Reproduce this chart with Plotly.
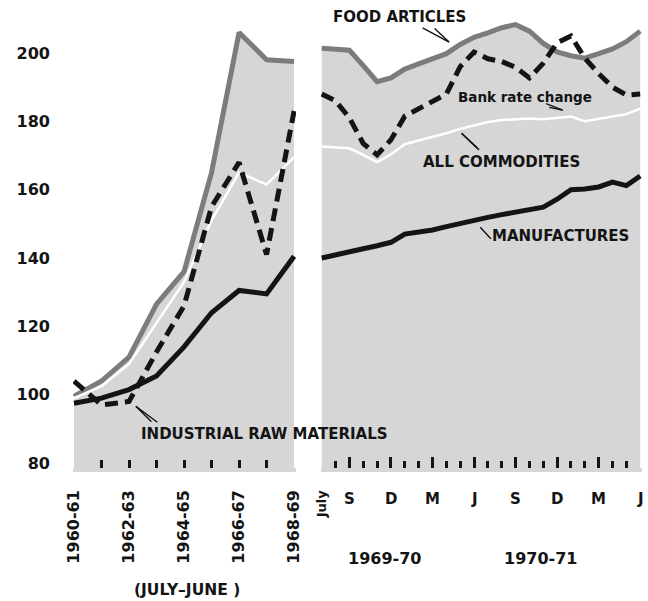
import plotly.graph_objects as go

# ---------------- data ----------------
years = ["1960-61", "1961-62", "1962-63", "1963-64", "1964-65",
         "1965-66", "1966-67", "1967-68", "1968-69"]
food_annual = [99.5, 104, 111, 126.5, 136, 165, 206, 198, 197.5]
allcomm_annual = [99, 102.5, 109, 121, 133, 151, 165, 161.5, 169.5]
manuf_annual = [97.5, 99, 101.5, 105.5, 114, 124, 130.5, 129.5, 140.5]
raw_annual = [104, 97, 98, 112.5, 126, 155, 168, 141, 183]

months = ["July", "Aug", "Sept", "Oct", "Nov", "Dec", "Jan", "Feb", "Mar", "Apr", "May", "June",
          "July", "Aug", "Sept", "Oct", "Nov", "Dec", "Jan", "Feb", "Mar", "Apr", "May", "June"]
food_monthly = [201.4, 201.0, 200.8, 196.3, 191.6, 192.7, 195.3, 196.8, 198.2, 199.8, 202.5, 204.6,
                205.9, 207.4, 208.3, 206.4, 202.8, 200.3, 199.2, 198.5, 199.8, 201.2, 203.3, 206.4]
raw_monthly = [188, 186, 181, 173.5, 170.2, 174.6, 181.5, 183.8, 185.9, 188, 196, 200.3,
               198.3, 197.5, 195.8, 192.7, 197, 203, 205, 198.5, 194, 190, 187.7, 188]
allcomm_monthly = [172.6, 172.4, 172.1, 170.2, 168.1, 170.3, 173.3, 174.4, 175.4, 176.5, 177.8, 178.9,
                   179.8, 180.4, 180.6, 180.8, 180.6, 181.0, 181.4, 180.0, 180.7, 181.2, 182.1, 183.7]
manuf_monthly = [140, 141, 141.8, 142.7, 143.6, 144.6, 147, 147.6, 148.2, 149.2, 150.2, 151,
                 151.9, 152.7, 153.4, 154.1, 154.9, 157.2, 160, 160.2, 160.8, 162.2, 161.2, 164]
fiscal_years = ["1969-70", "1970-71"]
y_ticks = [80, 100, 120, 140, 160, 180, 200]

# ---------------- styling ----------------
FILL = "#d6d6d6"
FOOD_C = "#7c7c7c"
INK = "#141414"
FONT = "DejaVu Sans"
W = "bold"

x_left = list(range(len(years)))
x_right = list(range(len(months)))

fig = go.Figure()
for xa, xs, food, allc, manuf, raw in [
    ("x", x_left, food_annual, allcomm_annual, manuf_annual, raw_annual),
    ("x2", x_right, food_monthly, allcomm_monthly, manuf_monthly, raw_monthly),
]:
    fig.add_trace(go.Scatter(x=xs, y=food, xaxis=xa, yaxis="y", mode="lines",
                             line=dict(color=FOOD_C, width=5), fill="tozeroy",
                             fillcolor=FILL, hoverinfo="skip"))
    fig.add_trace(go.Scatter(x=xs, y=allc, xaxis=xa, yaxis="y", mode="lines",
                             line=dict(color="white", width=2.5), hoverinfo="skip"))
    fig.add_trace(go.Scatter(x=xs, y=manuf, xaxis=xa, yaxis="y", mode="lines",
                             line=dict(color=INK, width=5), hoverinfo="skip"))
    fig.add_trace(go.Scatter(x=xs, y=raw, xaxis=xa, yaxis="y", mode="lines",
                             line=dict(color=INK, width=5, dash="13px,7px"), hoverinfo="skip"))

LEFT_DOM = [0, 0.3919]
RIGHT_DOM = [0.4359, 1]
major_right = [2, 5, 8, 11, 14, 17, 20]
minor_right = [k for k in range(1, 23) if k not in major_right]

fig.update_layout(
    width=648, height=601,
    margin=dict(l=73, r=6, t=10, b=133, autoexpand=False),
    paper_bgcolor="white", plot_bgcolor="white",
    showlegend=False,
    font=dict(family=FONT, color=INK, size=16),
    xaxis=dict(domain=LEFT_DOM, range=[-0.036, 8.07], anchor="y", automargin=False,
               showgrid=False, zeroline=False, showline=False,
               tickvals=x_left[0::2], ticktext=years[0::2], tickangle=-90,
               ticks="", ticklabelstandoff=18,
               tickfont=dict(family=FONT, size=16, color=INK, weight=W),
               minor=dict(tickvals=x_left[1:-1], ticks="inside", ticklen=8,
                          tickwidth=2.5, tickcolor=INK)),
    xaxis2=dict(domain=RIGHT_DOM, range=[-0.05, 23.13], anchor="y", automargin=False,
                showgrid=False, zeroline=False, showline=False,
                tickvals=major_right, ticks="inside", ticklen=11, tickwidth=2.5,
                tickcolor=INK, showticklabels=False,
                minor=dict(tickvals=minor_right, ticks="inside", ticklen=7,
                           tickwidth=2.5, tickcolor=INK)),
    yaxis=dict(range=[78.55, 212.58], anchor="x", automargin=False,
               showgrid=False, zeroline=False,
               showline=False, tickvals=y_ticks, ticks="", ticklabelstandoff=22,
               tickfont=dict(family=FONT, size=16, color=INK, weight=W)),
)

# gray strip continuing a few pixels below the plot area
for dom in (LEFT_DOM, RIGHT_DOM):
    fig.add_shape(type="rect", xref="paper", yref="paper", x0=dom[0], x1=dom[1],
                  y0=-4 / 458, y1=0, fillcolor=FILL, line=dict(width=0), layer="below")

ann = []
def label(text, x, y, xref, size=16, xanchor="center", yanchor="middle", weight=W):
    ann.append(dict(text=text, x=x, y=y, xref=xref, yref="y", showarrow=False,
                    xanchor=xanchor, yanchor=yanchor,
                    font=dict(family=FONT, size=size, color=INK, weight=weight)))

def pointer(x, y, xref, tails):
    for ax, ay in tails:
        ann.append(dict(text="", x=x, y=y, xref=xref, yref="y", showarrow=True,
                        arrowhead=0, arrowwidth=1.4, arrowcolor=INK, ax=ax, ay=ay,
                        standoff=0, startstandoff=0))

label("FOOD ARTICLES", 5.65, 210.5, "x2", size=15)
pointer(9.2, 203.2, "x2", [(-28, -15), (-16, -15)])
label("Bank rate change", 14.68, 187.1, "x2", size=13.5)
pointer(17.4, 183.3, "x2", [(-18, -7), (-15, -3)])
label("ALL COMMODITIES", 12.98, 168.2, "x2", size=15)
pointer(10.1, 176.5, "x2", [(19, 18), (17, 16)])
label("MANUFACTURES", 17.24, 146.3, "x2", size=15)
pointer(11.45, 149.0, "x2", [(12, 13)])
label("INDUSTRIAL RAW MATERIALS", 2.35, 88.5, "x", size=15, xanchor="left")
pointer(2.25, 96.6, "x", [(17, 17), (23, 17)])

# bottom labels of the monthly panel
ann.append(dict(text=months[0], x=0, y=0, xref="x2", yref="paper", yanchor="top",
                yshift=-19, textangle=-90, showarrow=False,
                font=dict(family=FONT, size=13, color=INK, weight=W)))
for k in major_right + [23]:
    ann.append(dict(text=months[k][0], x=k, y=0, xref="x2", yref="paper", yanchor="top",
                    yshift=-20, showarrow=False,
                    font=dict(family=FONT, size=15, color=INK, weight=W)))
for fy, xpos in zip(fiscal_years, [4.57, 15.8]):
    ann.append(dict(text=fy, x=xpos, y=0, xref="x2", yref="paper", yanchor="top",
                    yshift=-79, showarrow=False,
                    font=dict(family=FONT, size=16, color=INK, weight=W)))
ann.append(dict(text="(JULY\u2013JUNE )", x=4.09, y=0, xref="x", yref="paper", yanchor="top",
                yshift=-111, showarrow=False,
                font=dict(family=FONT, size=15.5, color=INK, weight=W)))

fig.update_layout(annotations=ann)
fig.write_html("out.html", config={"displayModeBar": False},
               post_script="document.body.style.margin='0';document.body.style.overflow='hidden';")
